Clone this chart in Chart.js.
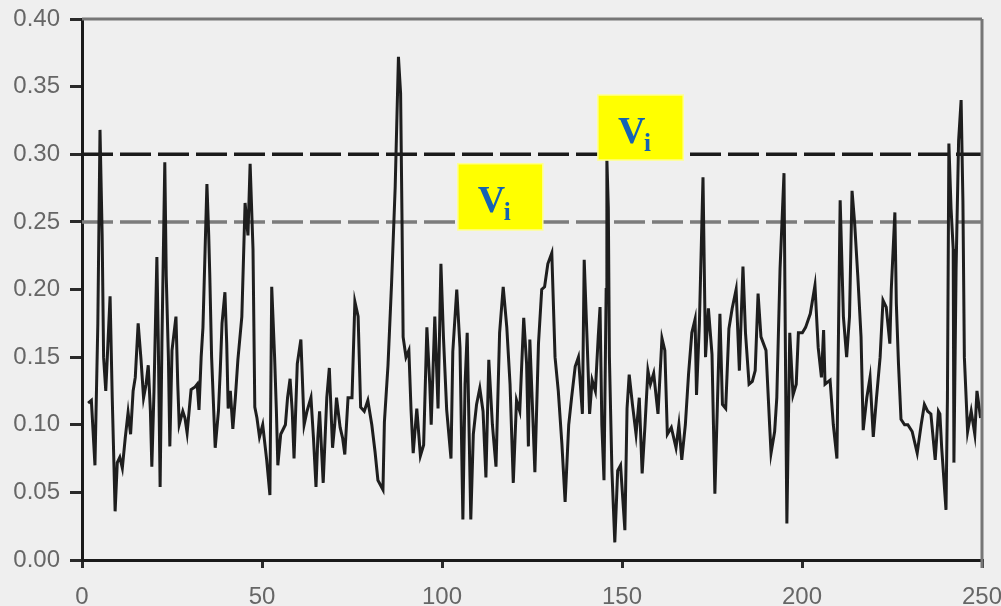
<!DOCTYPE html>
<html>
<head>
<meta charset="utf-8">
<script src="https://cdn.jsdelivr.net/npm/chart.js@4.4.1/dist/chart.umd.min.js"></script>
<style>
  html, body { margin: 0; padding: 0; background: #efefef; }
</style>
</head>
<body>
<canvas id="grafico" width="1001" height="606"></canvas>
<script>
// sample position along the record and measured value
const xs = [
  1.7, 2.6, 3.6, 4.4, 5.0, 5.6, 6.0, 6.6, 7.2, 7.8, 8.4, 9.2, 9.8, 10.5, 11.2, 12.0, 12.8, 13.5, 14.2, 14.8,
  15.6, 16.4, 17.1, 17.8, 18.4, 19.0, 19.4, 20.0, 20.8, 21.2, 21.7, 22.2, 23.0, 23.4, 24.0, 24.4, 25.0, 26.1, 26.6, 27.0,
  28.0, 28.6, 29.2, 30.3, 31.4, 32.0, 32.5, 33.1, 33.6, 34.2, 34.7, 35.2, 35.5, 36.0, 37.0, 37.9, 38.4, 38.9, 39.7, 40.2,
  40.6, 41.2, 41.9, 42.6, 43.3, 44.4, 45.3, 46.1, 46.7, 47.5, 48.0, 48.6, 49.3, 50.2, 51.3, 52.2, 52.7, 53.5, 54.0, 54.4,
  55.2, 56.5, 57.1, 57.8, 58.4, 58.9, 59.8, 60.8, 61.7, 62.5, 63.6, 64.3, 65.0, 65.5, 66.0, 67.0, 67.6, 68.0, 68.7, 69.6,
  70.2, 70.7, 71.7, 72.4, 73.0, 73.9, 75.0, 75.8, 76.7, 77.4, 78.4, 79.4, 80.5, 81.4, 82.2, 83.6, 84.0, 85.0, 86.0, 87.0,
  87.9, 88.5, 88.9, 89.2, 90.0, 90.8, 91.4, 92.0, 93.0, 94.0, 94.9, 95.8, 96.6, 97.0, 98.0, 98.9, 99.7, 100.4, 101.3, 102.5,
  103.0, 104.1, 105.0, 105.8, 106.4, 107.0, 108.0, 108.7, 109.6, 110.5, 111.4, 112.2, 113.0, 114.0, 115.0, 116.0, 117.0, 118.0, 118.9, 119.8,
  120.7, 121.6, 122.7, 123.5, 124.0, 124.4, 125.1, 125.8, 126.8, 127.7, 128.5, 129.4, 130.5, 131.4, 132.3, 133.3, 134.2, 135.2, 136.0, 137.0,
  137.9, 139.0, 139.5, 140.3, 141.0, 141.7, 142.6, 143.4, 143.9, 144.4, 145.0, 145.6, 145.8, 146.2, 146.5, 147.2, 148.0, 148.8, 149.6, 150.8,
  151.4, 152.0, 152.9, 153.9, 154.8, 155.6, 156.4, 157.2, 157.9, 158.8, 160.0, 161.1, 161.9, 162.6, 163.7, 165.0, 165.8, 166.6, 167.6, 168.5,
  169.4, 170.3, 170.7, 171.5, 172.5, 173.2, 174.0, 175.0, 175.8, 176.5, 177.2, 177.9, 178.8, 179.7, 180.6, 181.7, 182.6, 183.6, 184.3, 185.3,
  186.2, 187.0, 187.8, 188.6, 190.0, 191.0, 191.4, 192.4, 193.0, 193.9, 194.6, 195.0, 195.6, 195.8, 196.6, 197.5, 198.4, 199.0, 200.1, 201.0,
  202.3, 203.6, 204.5, 205.4, 206.0, 206.4, 207.8, 208.7, 209.7, 210.6, 211.5, 212.4, 213.2, 213.9, 214.6, 215.5, 216.4, 217.0, 218.0, 218.9,
  219.8, 220.7, 221.7, 222.5, 223.4, 224.4, 224.8, 225.8, 226.2, 226.8, 227.5, 228.5, 229.4, 230.6, 232.0, 233.1, 234.0, 234.9, 235.8, 237.0,
  237.9, 238.3, 238.8, 240.0, 240.4, 240.8, 241.4, 242.0, 242.2, 242.8, 243.5, 244.2, 244.7, 245.1, 246.0, 247.0, 248.0, 248.6, 249.6
];
const ys = [
  0.116, 0.118, 0.070, 0.175, 0.318, 0.240, 0.150, 0.125, 0.160, 0.195, 0.120, 0.036, 0.072, 0.076, 0.068, 0.090, 0.109, 0.093, 0.125, 0.135,
  0.175, 0.148, 0.120, 0.130, 0.144, 0.110, 0.069, 0.125, 0.224, 0.160, 0.054, 0.160, 0.294, 0.210, 0.150, 0.084, 0.155, 0.180, 0.130, 0.100,
  0.110, 0.105, 0.094, 0.126, 0.128, 0.130, 0.111, 0.150, 0.172, 0.230, 0.278, 0.240, 0.210, 0.150, 0.083, 0.110, 0.140, 0.175, 0.198, 0.160,
  0.112, 0.125, 0.097, 0.120, 0.148, 0.180, 0.264, 0.240, 0.293, 0.230, 0.113, 0.105, 0.091, 0.100, 0.074, 0.048, 0.202, 0.150, 0.110, 0.070,
  0.093, 0.100, 0.120, 0.134, 0.110, 0.075, 0.145, 0.163, 0.100, 0.110, 0.120, 0.090, 0.054, 0.090, 0.110, 0.057, 0.095, 0.120, 0.142, 0.083,
  0.100, 0.120, 0.098, 0.090, 0.078, 0.120, 0.120, 0.191, 0.180, 0.113, 0.110, 0.118, 0.100, 0.080, 0.059, 0.052, 0.102, 0.144, 0.205, 0.276,
  0.372, 0.345, 0.250, 0.165, 0.150, 0.155, 0.111, 0.079, 0.112, 0.077, 0.085, 0.172, 0.130, 0.100, 0.180, 0.112, 0.219, 0.165, 0.111, 0.075,
  0.154, 0.200, 0.157, 0.030, 0.130, 0.168, 0.030, 0.093, 0.115, 0.127, 0.110, 0.061, 0.148, 0.100, 0.069, 0.168, 0.202, 0.172, 0.130, 0.057,
  0.118, 0.110, 0.179, 0.145, 0.084, 0.163, 0.115, 0.065, 0.160, 0.200, 0.202, 0.219, 0.227, 0.150, 0.125, 0.086, 0.043, 0.100, 0.120, 0.143,
  0.150, 0.108, 0.222, 0.163, 0.108, 0.133, 0.125, 0.165, 0.187, 0.100, 0.059, 0.200, 0.296, 0.260, 0.150, 0.066, 0.013, 0.066, 0.070, 0.022,
  0.112, 0.137, 0.115, 0.093, 0.120, 0.064, 0.100, 0.140, 0.130, 0.138, 0.108, 0.164, 0.155, 0.093, 0.098, 0.083, 0.100, 0.074, 0.100, 0.138,
  0.168, 0.178, 0.122, 0.175, 0.283, 0.150, 0.186, 0.152, 0.049, 0.115, 0.182, 0.115, 0.112, 0.171, 0.186, 0.200, 0.140, 0.217, 0.168, 0.130,
  0.132, 0.140, 0.197, 0.165, 0.155, 0.100, 0.079, 0.095, 0.120, 0.215, 0.260, 0.286, 0.085, 0.027, 0.168, 0.122, 0.130, 0.168, 0.168, 0.172,
  0.182, 0.203, 0.157, 0.135, 0.170, 0.130, 0.133, 0.100, 0.075, 0.266, 0.180, 0.150, 0.180, 0.273, 0.250, 0.210, 0.165, 0.096, 0.120, 0.135,
  0.091, 0.120, 0.150, 0.192, 0.187, 0.160, 0.200, 0.257, 0.190, 0.145, 0.104, 0.100, 0.100, 0.095, 0.079, 0.100, 0.115, 0.110, 0.108, 0.074,
  0.110, 0.108, 0.083, 0.037, 0.120, 0.308, 0.260, 0.230, 0.072, 0.215, 0.310, 0.340, 0.265, 0.150, 0.095, 0.110, 0.093, 0.125, 0.105
];

const xTicks = [0, 50, 100, 150, 200, 250];
const yTicks = [0, 0.05, 0.10, 0.15, 0.20, 0.25, 0.30, 0.35, 0.40];

// threshold levels (dashed)
const upperLevel = 0.30;
const lowerLevel = 0.25;

// yellow "Vi" tags, in data units
const tags = [
  { x0: 104.4, x1: 128.0, y0: 0.244, y1: 0.293 },
  { x0: 143.3, x1: 167.0, y0: 0.2957, y1: 0.3438 }
];

const serie = xs.map((x, i) => ({ x, y: ys[i] }));

const bgPlugin = {
  id: 'bg',
  beforeDraw(chart) {
    const c = chart.ctx;
    c.save();
    c.fillStyle = '#efefef';
    c.fillRect(0, 0, chart.width, chart.height);
    c.restore();
  }
};

// gray top/right frame + the tags
const framePlugin = {
  id: 'frame',
  afterDatasetsDraw(chart) {
    const c = chart.ctx;
    const a = chart.chartArea;
    const sx = chart.scales.x, sy = chart.scales.y;
    c.save();
    c.strokeStyle = '#767676';
    c.lineWidth = 3;
    c.beginPath();
    c.moveTo(a.left, a.top);
    c.lineTo(a.right, a.top);
    c.moveTo(a.right, a.top);
    c.lineTo(a.right, a.bottom + 8);
    c.stroke();

    tags.forEach(t => {
      const l = sx.getPixelForValue(t.x0), r = sx.getPixelForValue(t.x1);
      const top = sy.getPixelForValue(t.y1), bot = sy.getPixelForValue(t.y0);
      c.fillStyle = '#ffff00';
      c.fillRect(l, top, r - l, bot - top);
      c.strokeStyle = '#ffff90';
      c.lineWidth = 1.5;
      c.strokeRect(l, top, r - l, bot - top);
      c.fillStyle = '#1462b4';
      c.textBaseline = 'alphabetic';
      c.textAlign = 'left';
      c.font = 'bold 38px "Liberation Serif", "Times New Roman", serif';
      c.fillText('V', l + 20, top + 48);
      c.font = 'bold 25px "Liberation Serif", "Times New Roman", serif';
      c.fillText('i', l + 46, top + 56);
    });
    c.restore();
  }
};

const tickFont = { family: '"Liberation Sans", Arial, sans-serif', size: 24 };

new Chart(document.getElementById('grafico'), {
  type: 'line',
  data: {
    datasets: [
      { data: serie, borderColor: '#1e1e1e', borderWidth: 3, pointRadius: 0, tension: 0 },
      { data: [{ x: 0, y: upperLevel }, { x: 250, y: upperLevel }], borderColor: '#1a1a1a', borderWidth: 3.5, borderDash: [31, 7], pointRadius: 0 },
      { data: [{ x: 0, y: lowerLevel }, { x: 250, y: lowerLevel }], borderColor: '#7c7c7c', borderWidth: 3.5, borderDash: [31, 7], pointRadius: 0 }
    ]
  },
  options: {
    responsive: false,
    animation: false,
    devicePixelRatio: 1,
    layout: { padding: { top: 19, right: 19, left: 0, bottom: 0 } },
    plugins: { legend: { display: false }, tooltip: { enabled: false } },
    scales: {
      x: {
        type: 'linear', min: 0, max: 250,
        afterBuildTicks: s => { s.ticks = xTicks.map(v => ({ value: v })); },
        grid: { display: true, drawOnChartArea: false, drawTicks: true, tickLength: 8, color: '#2a2a2a', lineWidth: 3 },
        border: { display: true, color: '#1a1a1a', width: 3 },
        ticks: { color: '#666', font: tickFont, padding: 15, maxRotation: 0, autoSkip: false },
        afterFit: s => { s.height = 46; s.paddingLeft = 0; s.paddingRight = 0; }
      },
      y: {
        min: 0, max: 0.4,
        afterBuildTicks: s => { s.ticks = yTicks.map(v => ({ value: v })); },
        grid: { display: true, drawOnChartArea: false, drawTicks: true, tickLength: 12, color: '#2a2a2a', lineWidth: 3 },
        border: { display: true, color: '#1a1a1a', width: 3 },
        ticks: { color: '#666', font: tickFont, padding: 10, callback: v => v.toFixed(2) },
        afterFit: s => { s.width = 82; s.paddingTop = 0; s.paddingBottom = 0; }
      }
    }
  },
  plugins: [bgPlugin, framePlugin]
});
</script>
</body>
</html>
